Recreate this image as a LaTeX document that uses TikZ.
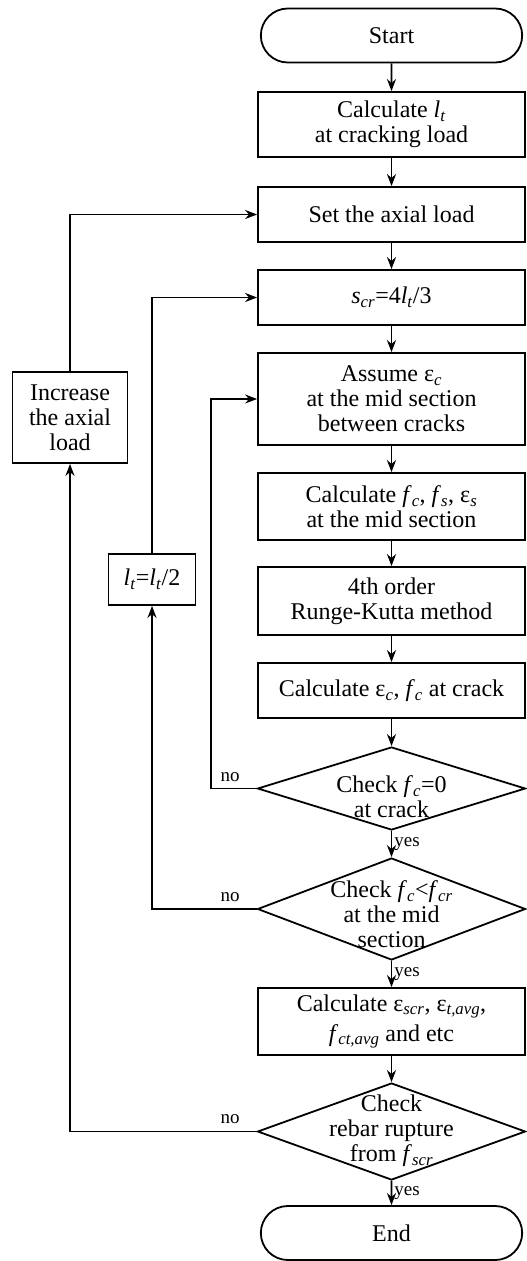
\documentclass[tikz,border=0pt]{standalone}
\usepackage{fontspec}
\setmainfont{Liberation Serif}
\usetikzlibrary{shapes.geometric, shapes.misc, arrows.meta, positioning}
\newcommand{\vsub}[2]{\textit{#1}\textsubscript{\textit{#2}}}
\newcommand{\strain}[1]{ε\textsubscript{\textit{#1}}}
\tikzset{
every node/.style={font=\fontsize{24}{25}\selectfont}, % main text size
process/.style={draw, rectangle, minimum width=267pt, align=center, inner sep=0pt}, % plain step
terminal/.style={draw, rounded rectangle, minimum width=268pt, minimum height=54pt}, % start and end
decision/.style={draw, diamond, minimum width=268pt, inner sep=0pt}, % checks, text put on top
dtext/.style={align=center, inner sep=0pt},
tag/.style={font=\fontsize{19}{19}\selectfont, inner sep=2pt}, % yes / no
}
\begin{document}
\begin{tikzpicture}[x=1pt, y=-1pt, line width=1.8pt,
    -{Stealth[length=12pt,width=9pt]}, % every connector ends in a filled arrow
    every edge/.append style={line width=1.8pt, -{Stealth[length=12pt,width=9pt]}}]
\useasboundingbox (0,0) rectangle (527,1261);
            % main column
            \node[terminal] (start) at (391.5,35.5) {Start};
            \node[process, minimum height=65pt] (lt) at (391.5,124.5) {Calculate \vsub{l}{t}\\at cracking load};
            \node[process, minimum height=55pt] (load) at (391.5,214.5) {Set the axial load};
            \node[process, minimum height=55pt] (scr) at (391.5,297.5) {\vsub{s}{cr}=4\vsub{l}{t}/3};
            \node[process, minimum height=92pt] (assume) at (391.5,399) {Assume \strain{c}\\at the mid section\\between cracks};
            \node[process, minimum height=67pt] (mid) at (391.5,506.5) {Calculate \vsub{f}{c}, \vsub{f}{s}, \strain{s}\\at the mid section};
            \node[process, minimum height=68pt] (rk) at (391.5,601) {4th order\\Runge-Kutta method};
            \node[process, minimum height=55pt] (crack) at (391.5,690.5) {Calculate \strain{c}, \vsub{f}{c} at crack};
            \node[decision, minimum height=83pt] (chk1) at (391.5,788.5) {};
            \node[dtext] (chk1t) at (391.5,797) {Check \vsub{f}{c}=0\\at crack};
            \node[decision, minimum height=102pt] (chk2) at (391.5,909) {};
            \node[dtext] (chk2t) at (391.5,914) {Check \vsub{f}{c}<\vsub{f}{cr}\\at the mid\\section};
            \node[process, minimum height=67pt] (calc) at (391.5,1021.5) {Calculate \strain{scr}, \strain{t,avg},\\[5pt]\vsub{f}{ct,avg} and etc};
            \node[decision, minimum height=97pt] (chk3) at (391.5,1131.5) {};
            \node[dtext] (chk3t) at (391.5,1131) {Check\\rebar rupture\\from \vsub{f}{scr}};
            \node[terminal] (stop) at (391.5,1233) {End};
            % loop boxes
            \node[process, minimum width=115pt, minimum height=91pt] (inc) at (70,417.5) {Increase\\the axial\\load};
            \node[process, minimum width=87pt, minimum height=51pt] (half) at (152,579.5) {\vsub{l}{t}=\vsub{l}{t}/2};
            \coordinate (ret1) at (211,788.5);
            \draw
                (start) edge (lt)
                (lt) edge (load)
                (load) edge (scr)
                (scr) edge (assume)
                (assume) edge (mid)
                (mid) edge (rk)
                (rk) edge (crack)
                (crack) edge (chk1)
                (chk1) edge node[tag, right]{yes} (chk2)
                (chk2) edge node[tag, right]{yes} (calc)
                (calc) edge (chk3)
                (chk3) edge node[tag, right]{yes} (stop)
                ;
            \draw (chk1.west) -- (ret1) |- (assume.west);
            \draw (chk2.west) -| (half.south);
            \draw (half.north) |- (scr.west);
            \draw (chk3.west) -| (inc.south);
            \draw (inc.north) |- (load.west);
            \node[tag] (no1) at (230,777) {no};
            \node[tag] (no2) at (230,897) {no};
            \node[tag] (no3) at (230,1119) {no};
\end{tikzpicture}
\end{document}
